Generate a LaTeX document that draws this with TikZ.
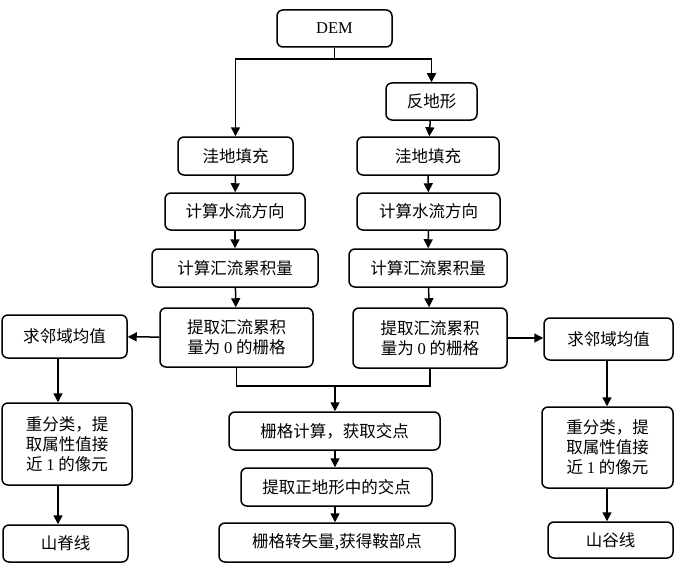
\documentclass[tikz,border=0pt]{standalone}
\usepackage{fontspec}
\setmainfont{Liberation Serif}
\newfontfamily\cjk{Noto Sans CJK SC}
\usetikzlibrary{arrows.meta}
\begin{document}
\begin{tikzpicture}[x=1pt,y=-1pt,
 box/.style={draw,rounded corners=6pt,line width=1.5pt,align=center,inner sep=0pt,font=\cjk\fontsize{16.5}{20}\selectfont},
 arr/.style={line width=1.5pt,-{Triangle[length=9pt,width=9pt]}},
 lin/.style={line width=1.5pt}]
 \useasboundingbox (0,0) rectangle (679,575);
 \node[box,minimum width=115pt,minimum height=37pt](dem) at (334.5,28.5){\rmfamily DEM};
 \node[box,minimum width=91pt,minimum height=37pt](fdx) at (431.5,101.5){反地形};
 \node[box,minimum width=115pt,minimum height=38pt](wdL) at (235.5,156){洼地填充};
 \node[box,minimum width=142pt,minimum height=38pt](wdR) at (428,156){洼地填充};
 \node[box,minimum width=140pt,minimum height=37pt](slL) at (235,211.5){计算水流方向};
 \node[box,minimum width=143pt,minimum height=37pt](slR) at (428.5,211.5){计算水流方向};
 \node[box,minimum width=166pt,minimum height=38pt](hlL) at (235,268){计算汇流累积量};
 \node[box,minimum width=158pt,minimum height=38pt](hlR) at (428,268){计算汇流累积量};
 \node[box,minimum width=153pt,minimum height=59pt](tqL) at (236.5,337.5){提取汇流累积\\量为 \textrm{0} 的栅格};
 \node[box,minimum width=154pt,minimum height=60pt](tqR) at (430,338){提取汇流累积\\量为 \textrm{0} 的栅格};
 \node[box,minimum width=125pt,minimum height=43pt](jyL) at (64.5,336.5){求邻域均值};
 \node[box,minimum width=129pt,minimum height=42pt](jyR) at (608.5,339){求邻域均值};
 \node[box,minimum width=130pt,minimum height=82pt](flL) at (67,444){重分类，提\\取属性值接\\近 \textrm{1} 的像元};
 \node[box,minimum width=131pt,minimum height=81pt](flR) at (607.5,447.5){重分类，提\\取属性值接\\近 \textrm{1} 的像元};
 \node[box,minimum width=125pt,minimum height=37pt](sjx) at (65.5,543.5){山脊线};
 \node[box,minimum width=125pt,minimum height=36pt](sgx) at (610.5,540){山谷线};
 \node[box,minimum width=211pt,minimum height=38pt](jd) at (334.5,431){栅格计算，获取交点};
 \node[box,minimum width=191pt,minimum height=38pt](zd) at (336.5,487){提取正地形中的交点};
 \node[box,minimum width=236pt,minimum height=39pt](ab) at (337,542.5){栅格转矢量,获得鞍部点};
 \coordinate (fk) at (334.5,59);
 \coordinate (hb) at (335,386);
 \draw[lin](dem.south)--(fk);
 \draw[arr](fk)-|(wdL.north);
 \draw[arr](fk)-|(fdx.north);
 \draw[arr](fdx)--(wdR);
 \draw[arr](wdL)--(slL);
 \draw[arr](wdR)--(slR);
 \draw[arr](slL)--(hlL);
 \draw[arr](slR)--(hlR);
 \draw[arr](hlL)--(tqL);
 \draw[arr](hlR)--(tqR);
 \draw[arr](tqL)--(jyL);
 \draw[arr](tqR.east)--(jyR.west|-tqR.east);
 \draw[arr](jyL.south-|58,0)--(flL.north-|58,0);
 \draw[arr](flL.south-|58,0)--(sjx.north-|58,0);
 \draw[arr](jyR.south-|607,0)--(flR.north-|607,0);
 \draw[arr](flR.south-|607,0)--(sgx.north-|607,0);
 \draw[lin](tqL.south)|-(hb)-|(tqR.south);
 \draw[arr](hb)--(jd.north-|hb);
 \draw[arr](jd.south-|hb)--(zd.north-|hb);
 \draw[arr](zd.south-|hb)--(ab.north-|hb);
\end{tikzpicture}
\end{document}
